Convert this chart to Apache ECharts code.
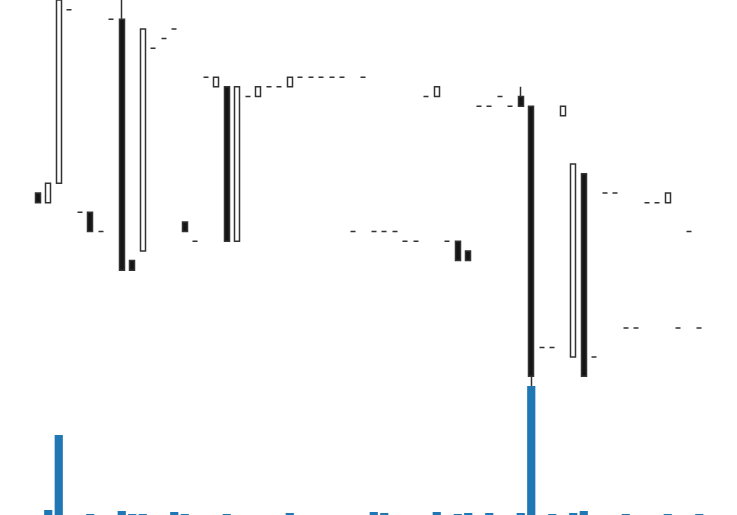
<!DOCTYPE html>
<html>
<head>
<meta charset="utf-8">
<script src="https://cdn.jsdelivr.net/npm/echarts@6/dist/echarts.min.js"></script>
<style>
  html, body { margin: 0; padding: 0; background: #fff; }
  #chart { width: 737px; height: 515px; }
</style>
</head>
<body>
<div id="chart"></div>
<script>
// 64 sessions, index labels
const categories = Array.from({length: 64}, (_, i) => 'D' + (i + 1));

// Prices
const opens = [
  22.0, 21.9, 22.1, 23.9, 21.8, 21.8, 21.6, 23.8, 23.8, 21.3,
  21.4, 23.5, 23.6, 23.7, 21.7, 21.5, 23.2, 23.1, 23.1, 21.5,
  23.0, 23.0, 23.1, 23.1, 23.1, 23.2, 23.2, 23.2, 23.2, 23.2,
  21.6, 23.2, 21.6, 21.6, 21.6, 21.5, 21.5, 23.0, 23.0, 21.5,
  21.5, 21.4, 22.9, 22.9, 23.0, 22.9, 23.0, 22.9, 20.4, 20.4,
  22.8, 20.3, 22.2, 20.3, 22.0, 22.0, 20.6, 20.6, 21.9, 21.9,
  21.9, 20.6, 21.6, 20.6
];
const closes = [
  21.9, 22.1, 24.0, 23.9, 21.8, 21.6, 21.6, 23.8, 21.2, 21.2,
  23.7, 23.5, 23.6, 23.7, 21.6, 21.5, 23.2, 23.2, 21.5, 23.1,
  23.0, 23.1, 23.1, 23.1, 23.2, 23.2, 23.2, 23.2, 23.2, 23.2,
  21.6, 23.2, 21.6, 21.6, 21.6, 21.5, 21.5, 23.0, 23.1, 21.5,
  21.3, 21.3, 22.9, 22.9, 23.0, 22.9, 22.9, 20.1, 20.4, 20.4,
  22.9, 22.3, 20.1, 20.3, 22.0, 22.0, 20.6, 20.6, 21.9, 21.9,
  22.0, 20.6, 21.6, 20.6
];
const lows = [
  21.9, 21.9, 22.1, 23.9, 21.8, 21.6, 21.6, 23.8, 21.2, 21.2,
  21.4, 23.5, 23.6, 23.7, 21.6, 21.5, 23.2, 23.1, 21.5, 21.5,
  23.0, 23.0, 23.1, 23.1, 23.1, 23.2, 23.2, 23.2, 23.2, 23.2,
  21.6, 23.2, 21.6, 21.6, 21.6, 21.5, 21.5, 23.0, 23.0, 21.5,
  21.3, 21.3, 22.9, 22.9, 23.0, 22.9, 22.9, 20.0, 20.4, 20.4,
  22.8, 20.3, 20.1, 20.3, 22.0, 22.0, 20.6, 20.6, 21.9, 21.9,
  21.9, 20.6, 21.6, 20.6
];
const highs = [
  22.0, 22.1, 24.0, 23.9, 21.8, 21.8, 21.6, 23.8, 24.0, 21.3,
  23.7, 23.5, 23.6, 23.7, 21.7, 21.5, 23.2, 23.2, 23.1, 23.1,
  23.0, 23.1, 23.1, 23.1, 23.2, 23.2, 23.2, 23.2, 23.2, 23.2,
  21.6, 23.2, 21.6, 21.6, 21.6, 21.5, 21.5, 23.0, 23.1, 21.5,
  21.5, 21.4, 22.9, 22.9, 23.0, 22.9, 23.1, 22.9, 20.4, 20.4,
  22.9, 22.3, 22.2, 20.3, 22.0, 22.0, 20.6, 20.6, 21.9, 21.9,
  22.0, 20.6, 21.6, 20.6
];
const volumes = [
  0, 500, 8000, 0, 0, 100, 0, 0, 400, 100,
  100, 0, 0, 300, 100, 0, 0, 0, 100, 0,
  0, 0, 0, 0, 200, 0, 0, 0, 0, 0,
  0, 0, 300, 200, 0, 0, 0, 0, 300, 0,
  100, 200, 0, 200, 0, 0, 200, 12900, 0, 100,
  0, 200, 400, 0, 0, 0, 100, 0, 0, 0,
  100, 0, 0, 100
];

const ohlc = categories.map((c, i) => [opens[i], closes[i], lows[i], highs[i]]);

const chart = echarts.init(document.getElementById('chart'), null, {renderer: 'canvas'});
chart.setOption({
  animation: false,
  backgroundColor: '#fff',
  grid: [
    {left: 32.5, right: 32.5, top: 0, height: 386},
    {left: 32.5, right: 32.5, top: 386, bottom: 0}
  ],
  xAxis: [
    {type: 'category', data: categories, gridIndex: 0, boundaryGap: true, show: false},
    {type: 'category', data: categories, gridIndex: 1, boundaryGap: true, show: false}
  ],
  yAxis: [
    {type: 'value', gridIndex: 0, min: 20.0, max: 24.0, show: false, splitLine: {show: false}},
    {type: 'value', gridIndex: 1, min: 0, max: 12900, show: false, splitLine: {show: false}}
  ],
  series: [
    {
      type: 'candlestick',
      xAxisIndex: 0, yAxisIndex: 0,
      data: ohlc,
      barWidth: 5.5,
      clip: false,
      itemStyle: {
        color: '#ffffff',
        color0: '#151515',
        borderColor: '#333333',
        borderColor0: '#333333',
        borderWidth: 1.5
      }
    },
    {
      type: 'bar',
      xAxisIndex: 1, yAxisIndex: 1,
      data: volumes,
      barCategoryGap: '22%',
      itemStyle: {color: '#1f77b4'}
    }
  ]
});
</script>
</body>
</html>
